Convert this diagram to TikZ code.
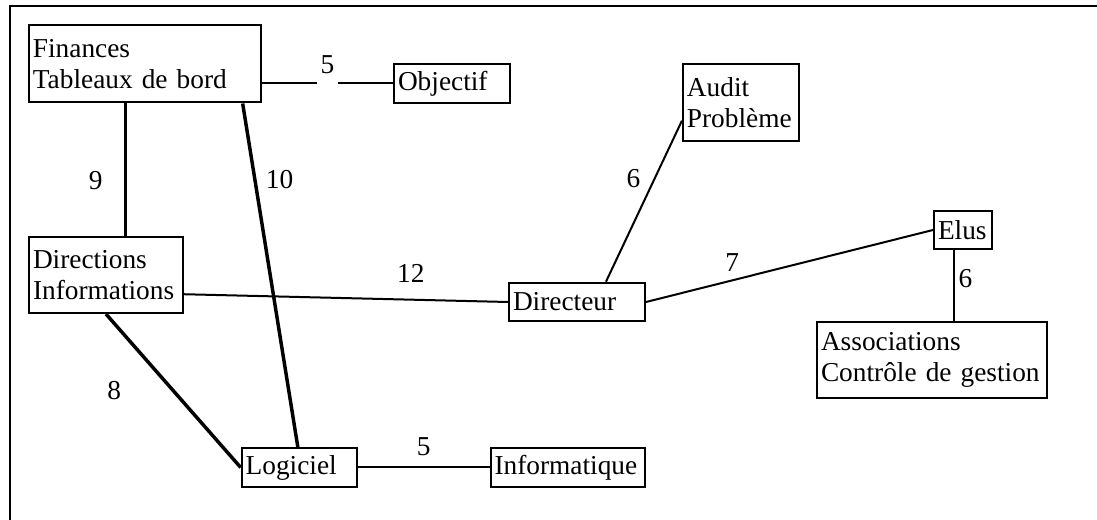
\documentclass[tikz,border=0pt]{standalone}
\usepackage{fontspec}
\setmainfont{Liberation Serif}

\tikzset{
    box/.style={draw, line width=1.5pt, align=left, inner xsep=3pt, inner ysep=2pt},
    link/.style={line width=1.5pt},
    strong/.style={line width=2.6pt},
    num/.style={inner sep=1pt}
}

\begin{document}
\begin{tikzpicture}[x=0.75pt, y=-0.75pt, font=\fontsize{20.5}{23}\selectfont]
        \useasboundingbox (0,0) rectangle (1097,520);
        \draw[line width=2pt] (1097,6) -| (10,520);

        \node[box, text width=167.8pt, minimum height=57.9pt] (fin) at (144.8,63.9) {Finances\\Tableaux de bord};
        \node[box, text width=81pt, minimum height=28.9pt] (obj) at (452,83.3) {Objectif};
        \node[box, text width=81.4pt, minimum height=58pt] (aud) at (741.2,102.7) {Audit\\Problème};
        \node[box, text width=37.5pt, minimum height=29pt] (elu) at (963,230) {Elus};
        \node[box, text width=109.5pt, minimum height=57.2pt] (dirs) at (106,274.9) {Directions\\Informations};
        \node[box, text width=96pt, minimum height=29pt] (dtr) at (577,302) {Directeur};
        \node[box, text width=166.5pt, minimum height=57pt] (assoc) at (932,359.7) {Associations\\Contrôle de gestion};
        \node[box, text width=80.25pt, minimum height=28.8pt] (log) at (299.2,467.5) {Logiciel};
        \node[box, text width=109.9pt, minimum height=28.8pt] (info) at (567.8,467.5) {Informatique};

        \draw[link] (obj.west -| fin.east) -- node[num, pos=.5, fill=white, inner xsep=3pt, text depth=6.5pt, anchor=base, yshift=7pt] {5} (obj.west);
        \draw[strong] ([xshift=-14.4pt]fin.south) -- node[num, pos=.58, left=15pt] {9} ([xshift=-14.4pt]fin.south |- dirs.north);
        \draw[strong] ([xshift=-14.25pt]fin.south east) -- node[num, pos=.22, right=6pt] {10} ([xshift=-1pt]log.north);
        \draw[link] ([yshift=-14.5pt]dirs.east) -- node[num, pos=.7, above=11pt] {12} (dtr.west);
        \draw[strong] (dirs.south) -- node[num, pos=.5, left=37pt] {8} (log.west);
        \draw[link] (log.east) -- node[num, above=7pt] {5} (info.west);
        \draw[link] ([xshift=21.75pt]dtr.north) -- node[num, pos=.64, left=9pt] {6} ([yshift=-13.5pt]aud.west);
        \draw[link] (dtr.east) -- node[num, pos=.3, above=5pt] {7} (elu.west);
        \draw[link] ([xshift=-7.1pt]elu.south) -- node[num, pos=.4, right=2pt] {6} ([xshift=-7.1pt]elu.south |- assoc.north);
\end{tikzpicture}
\end{document}
